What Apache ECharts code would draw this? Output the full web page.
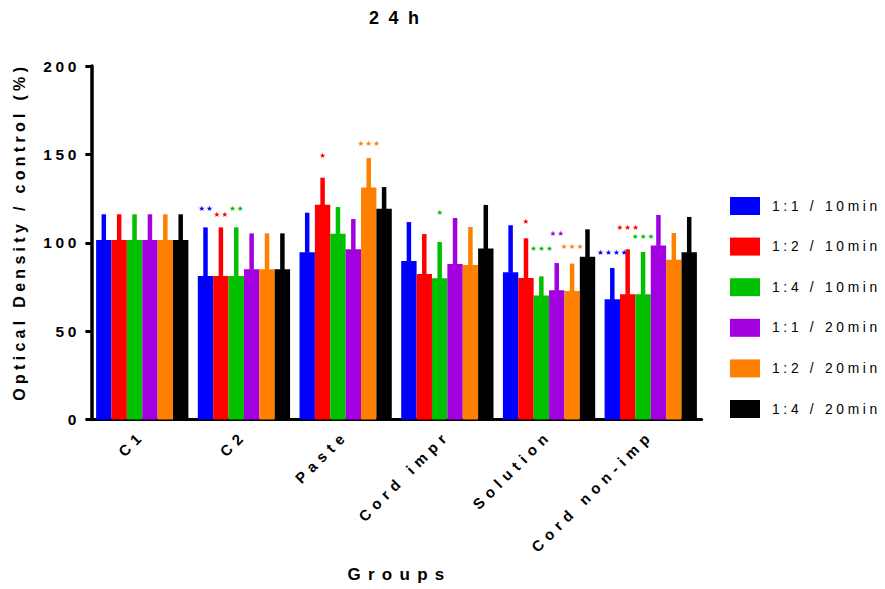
<!DOCTYPE html>
<html>
<head>
<meta charset="utf-8">
<script src="https://cdn.jsdelivr.net/npm/echarts@6/dist/echarts.min.js"></script>
<style>
  html, body { margin: 0; padding: 0; background: #fff; }
  #chart { width: 885px; height: 589px; }
  #chart svg text[style*="18px"] { letter-spacing: 9.5px !important; }
  #chart svg text[style*="17px"] { letter-spacing: 7.3px !important; }
  #chart svg text[style*="16px"] { letter-spacing: 4.3px !important; }
  #chart svg text[style*="15.5px"] { letter-spacing: 3.6px !important; }
  #chart svg text[style*="15px"] { letter-spacing: 5.6px !important; }
  #chart svg text[style*="13.8px"] { letter-spacing: 3.7px !important; }
  #chart svg text[style*="7.5px"] { letter-spacing: 1.2px !important; }
</style>
</head>
<body>
<div id="chart"></div>
<script>
// ---- data ----
const categories = ['C1', 'C2', 'Paste', 'Cord impr', 'Solution', 'Cord non-imp'];
const seriesNames = ['1:1 / 10min', '1:2 / 10min', '1:4 / 10min', '1:1 / 20min', '1:2 / 20min', '1:4 / 20min'];
const colors = ['#0000FF', '#FF0000', '#00C000', '#A300E0', '#FF8000', '#000000'];

// mean values
const mean_1_1_10 = [101.6, 81.2, 94.6, 89.7, 83.3, 68.0];
const mean_1_2_10 = [101.6, 81.2, 121.5, 82.3, 80.1, 70.8];
const mean_1_4_10 = [101.6, 81.2, 105.1, 79.9, 70.1, 70.8];
const mean_1_1_20 = [101.6, 85.0, 96.3, 88.0, 73.1, 98.5];
const mean_1_2_20 = [101.6, 85.0, 131.2, 87.4, 72.7, 90.4];
const mean_1_4_20 = [101.6, 85.0, 119.3, 96.7, 92.1, 94.6];

// upper end of error bars (mean + SD)
const upper_1_1_10 = [116.1, 108.7, 117.0, 111.7, 109.9, 85.7];
const upper_1_2_10 = [116.1, 108.7, 136.8, 104.9, 102.5, 96.3];
const upper_1_4_10 = [116.1, 108.7, 120.2, 100.4, 81.0, 94.8];
const upper_1_1_20 = [116.1, 105.3, 113.4, 114.0, 88.5, 115.7];
const upper_1_2_20 = [116.1, 105.3, 147.9, 108.9, 88.2, 105.5];
const upper_1_4_20 = [116.1, 105.3, 131.5, 121.4, 107.6, 114.6];

// significance marks and their vertical positions (value units)
const stars_1_1_10 = ['', '★★', '', '', '', '★★★★'];
const stars_1_2_10 = ['', '★★', '★', '', '★', '★★★'];
const stars_1_4_10 = ['', '★★', '', '★', '★★★', '★★★'];
const stars_1_1_20 = ['', '', '', '', '★★', ''];
const stars_1_2_20 = ['', '', '★★★', '', '★★★', ''];
const stars_1_4_20 = ['', '', '', '', '', ''];
const starY_1_1_10 = [null, 119.1, null, null, null, 94.6];
const starY_1_2_10 = [null, 116.1, 149.1, null, 112.3, 108.9];
const starY_1_4_10 = [null, 119.1, null, 117.2, 97.0, 103.8];
const starY_1_1_20 = [null, null, null, null, 105.5, null];
const starY_1_2_20 = [null, null, 156.3, null, 97.6, null];
const starY_1_4_20 = [null, null, null, null, null, null];

const yTicks = [0, 50, 100, 150, 200];

const means = [mean_1_1_10, mean_1_2_10, mean_1_4_10, mean_1_1_20, mean_1_2_20, mean_1_4_20];
const uppers = [upper_1_1_10, upper_1_2_10, upper_1_4_10, upper_1_1_20, upper_1_2_20, upper_1_4_20];
const stars = [stars_1_1_10, stars_1_2_10, stars_1_4_10, stars_1_1_20, stars_1_2_20, stars_1_4_20];
const starYs = [starY_1_1_10, starY_1_2_10, starY_1_4_10, starY_1_1_20, starY_1_2_20, starY_1_4_20];

// ---- styles ----
const FONT = 'Liberation Sans, Arial, sans-serif';
const STAR_FONT = 'DejaVu Sans, sans-serif';
const BAR_W = 15.38;
const ERR_W = 4.5;
const STAR_FS = 7.5;

const chart = echarts.init(document.getElementById('chart'), null, { renderer: 'svg', width: 885, height: 589 });

const barSeries = seriesNames.map((name, si) => ({
  type: 'bar',
  name: name,
  data: means[si],
  barWidth: BAR_W,
  barGap: '0%',
  itemStyle: { color: colors[si] },
  silent: true,
  z: 2
}));

const errSeries = seriesNames.map((name, si) => ({
  type: 'custom',
  name: 'err' + si,
  silent: true,
  z: 3,
  data: categories.map((c, ci) => [ci, means[si][ci], uppers[si][ci]]),
  encode: { x: 0, y: [1, 2] },
  renderItem: function (params, api) {
    const ci = params.dataIndex;
    const base = api.coord([ci, means[si][ci]]);
    const top = api.coord([ci, uppers[si][ci]]);
    const cx = base[0] + (si - 2.5) * BAR_W;
    const children = [{
      type: 'rect',
      shape: { x: cx - ERR_W / 2, y: top[1], width: ERR_W, height: base[1] - top[1] + 0.5 },
      style: { fill: colors[si] }
    }];
    const label = stars[si][ci];
    if (label) {
      const sp = api.coord([ci, starYs[si][ci]]);
      children.push({
        type: 'text',
        x: cx + 0.6,
        y: sp[1],
        style: {
          text: label,
          fill: colors[si],
          font: STAR_FS + 'px ' + STAR_FONT,
          align: 'center',
          verticalAlign: 'middle'
        }
      });
    }
    return { type: 'group', children: children };
  }
}));

chart.setOption({
  animation: false,
  backgroundColor: '#ffffff',
  title: {
    text: '24h',
    left: 369,
    top: 9,
    padding: 0,
    textStyle: { fontFamily: FONT, fontSize: 18, fontWeight: 'bold', color: '#000' }
  },
  legend: {
    orient: 'vertical',
    left: 730,
    top: 197,
    padding: 0,
    itemWidth: 30,
    itemHeight: 18,
    itemGap: 22.6,
    icon: 'rect',
    selectedMode: false,
    data: seriesNames,
    textStyle: { fontFamily: FONT, fontSize: 13.8, color: '#000', padding: [0, 0, 0, 7] }
  },
  grid: { left: 91.4, top: 66, right: 183.4, bottom: 169.5, containLabel: false },
  xAxis: {
    type: 'category',
    data: categories,
    name: 'Groups',
    nameLocation: 'middle',
    nameGap: 146,
    nameTextStyle: { fontFamily: FONT, fontSize: 17, fontWeight: 'bold', color: '#000', padding: [0, 0, 0, 6] },
    axisLine: { lineStyle: { color: '#000', width: 3 } },
    axisTick: { alignWithLabel: true, length: 5, lineStyle: { color: '#000', width: 3 } },
    axisLabel: { interval: 0, rotate: 45, margin: 13, fontFamily: FONT, fontSize: 15, fontWeight: 'bold', color: '#000' },
    splitLine: { show: false }
  },
  yAxis: {
    type: 'value',
    min: yTicks[0],
    max: yTicks[yTicks.length - 1],
    interval: yTicks[1] - yTicks[0],
    name: 'Optical Density / control (%)',
    nameLocation: 'middle',
    nameGap: 64,
    nameTextStyle: { fontFamily: FONT, fontSize: 16, fontWeight: 'bold', color: '#000', padding: [0, 0, 0, 22] },
    axisLine: { show: true, lineStyle: { color: '#000', width: 3.5 } },
    axisTick: { show: true, length: 6, lineStyle: { color: '#000', width: 3 } },
    axisLabel: { margin: 11.5, fontFamily: FONT, fontSize: 15.5, fontWeight: 'bold', color: '#000' },
    splitLine: { show: false }
  },
  series: barSeries.concat(errSeries)
});
</script>
</body>
</html>
